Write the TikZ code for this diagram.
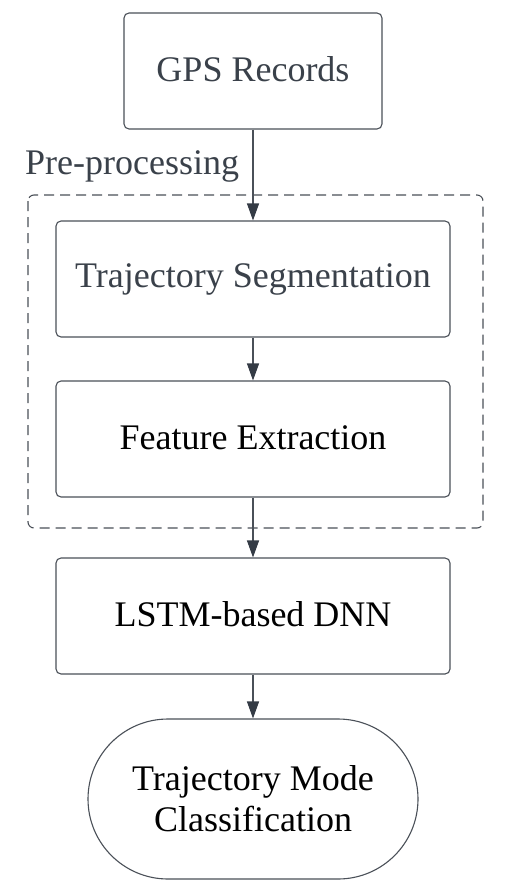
\documentclass[tikz,border=0pt]{standalone}
\usepackage{fontspec}
\setmainfont{Liberation Serif}
\usetikzlibrary{arrows.meta}
\definecolor{linec}{HTML}{4A5058}
\definecolor{headc}{HTML}{343B45}
\definecolor{textg}{HTML}{3A414A}
\newcommand{\up}[1]{\raisebox{3pt}{#1}}
\begin{document}
\begin{tikzpicture}[x=1pt,y=-1pt,
  box/.style={draw=linec,line width=1.1pt,rounded corners=5pt,fill=white,
    minimum width=394pt,minimum height=116pt,inner sep=0pt,
    font=\fontsize{36}{41}\selectfont,align=center},
  flow/.style={draw=linec,line width=1.1pt,-{Triangle[width=12pt,length=17pt,fill=headc,color=headc]}}]
\useasboundingbox (0,0) rectangle (512,896);
\fill[white] (0,0) rectangle (512,896);
\draw[linec,line width=1.1pt,dash pattern=on 10pt off 6pt,rounded corners=6pt] (28,195) rectangle (483,528);
\node[anchor=base west,text=textg,font=\fontsize{36}{42}\selectfont,inner sep=0pt] (pre) at (25,175) {Pre-processing};
\node[box,minimum width=258pt,text=textg] (gps) at (253,71) {\up{GPS Records}};
\node[box,text=textg] (ts) at (253,279) {\up{Trajectory Segmentation}};
\node[box] (fe) at (253,439) {\up{Feature Extraction}};
\node[box] (lstm) at (253,616) {\up{LSTM-based DNN}};
\node[box,rounded corners=80pt,minimum width=330pt,minimum height=160pt] (cls) at (253,799) {Trajectory Mode\\Classification};
\draw[flow] (gps) -- (ts);
\draw[flow] (ts) -- (fe);
\draw[flow] (fe) -- (lstm);
\draw[flow] (lstm) -- (cls);
\end{tikzpicture}
\end{document}
